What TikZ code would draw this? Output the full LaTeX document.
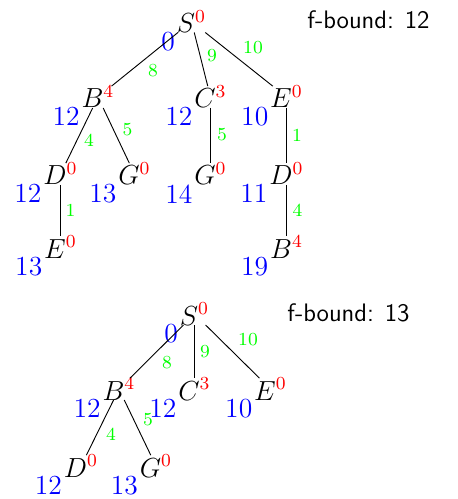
\documentclass[tikz,border=0pt]{standalone}
\usepackage{xcolor}
\newcommand{\hval}[2]{$#1^{\color{red}#2}$}
\begin{document}
\begin{tikzpicture}[x=0.435pt,y=-0.435pt,
  tn/.style={inner sep=0pt, outer sep=0pt, anchor=base, font=\fontsize{12}{14}\selectfont},
  hl/.style={text=blue, inner sep=0pt, anchor=north east, font=\fontsize{12}{14}\selectfont},
  gl/.style={text=green, inner sep=0pt, anchor=center, font=\fontsize{8}{9.5}\selectfont},
  fb/.style={inner sep=0pt, anchor=base west, font=\fontsize{11}{13}\selectfont\sffamily},
  edge/.style={draw=black, line width=0.4pt}]
\useasboundingbox (0,0) rectangle (457,499);
% ---------- top tree ----------
\node[tn] (S1) at (191.5,32.5) {\hval{S}{0}};
\node[tn] (B1) at (98,108) {\hval{B}{4}};
\node[tn] (C1) at (210.5,108) {\hval{C}{3}};
\node[tn] (E1) at (286.5,108) {\hval{E}{0}};
\node[tn] (D2) at (60.5,185) {\hval{D}{0}};
\node[tn] (G2) at (134.5,185) {\hval{G}{0}};
\node[tn] (G3) at (210.5,185) {\hval{G}{0}};
\node[tn] (D4) at (286.5,185) {\hval{D}{0}};
\node[tn] (E5) at (60.5,258) {\hval{E}{0}};
\node[tn] (B6) at (286.5,258) {\hval{B}{4}};
\foreach \n/\v in {S1/0,B1/12,C1/12,E1/10,D2/12,G2/13,G3/14,D4/11,E5/13,B6/19}
  \node[hl] (\n h) at ([shift={(-1.5,-1)}]\n.south west) {\v};
\draw[edge] (S1) -- (B1) node[gl] (l1) at (153,71) {8};
\draw[edge] (S1) -- (C1) node[gl] (l2) at (212,56) {9};
\draw[edge] (S1) -- (E1) node[gl] (l3) at (253,47.5) {10};
\draw[edge] (B1) -- (D2) node[gl] (l4) at (89,140) {4};
\draw[edge] (B1) -- (G2) node[gl] (l5) at (127.5,129.5) {5};
\draw[edge] (C1) -- (G3) node[gl] (l6) at (222,135) {5};
\draw[edge] (E1) -- (D4) node[gl] (l7) at (297,135) {1};
\draw[edge] (D2) -- (E5) node[gl] (l8) at (70.5,210) {1};
\draw[edge] (D4) -- (B6) node[gl] (l9) at (297.5,210) {4};
\node[fb] (fb1) at (307,29) {f-bound:\hspace{4.7pt}12};
% ---------- bottom tree ----------
\node[tn] (s) at (194.5,325) {\hval{S}{0}};
\node[tn] (b) at (119,400) {\hval{B}{4}};
\node[tn] (c) at (194.5,400) {\hval{C}{3}};
\node[tn] (e) at (270.5,400) {\hval{E}{0}};
\node[tn] (d) at (81,477) {\hval{D}{0}};
\node[tn] (g) at (156,477) {\hval{G}{0}};
\foreach \n/\v in {s/0,b/12,c/12,e/10,d/12,g/13}
  \node[hl] (\n h) at ([shift={(-1.5,-1)}]\n.south west) {\v};
\draw[edge] (s) -- (b) node[gl] (m1) at (167,363) {8};
\draw[edge] (s) -- (c) node[gl] (m2) at (205,351.5) {9};
\draw[edge] (s) -- (e) node[gl] (m3) at (248,340) {10};
\draw[edge] (b) -- (d) node[gl] (m4) at (111,434) {4};
\draw[edge] (b) -- (g) node[gl] (m5) at (148,420) {5};
\node[fb] (fb2) at (287,321) {f-bound:\hspace{4.7pt}13};
\end{tikzpicture}
\end{document}
